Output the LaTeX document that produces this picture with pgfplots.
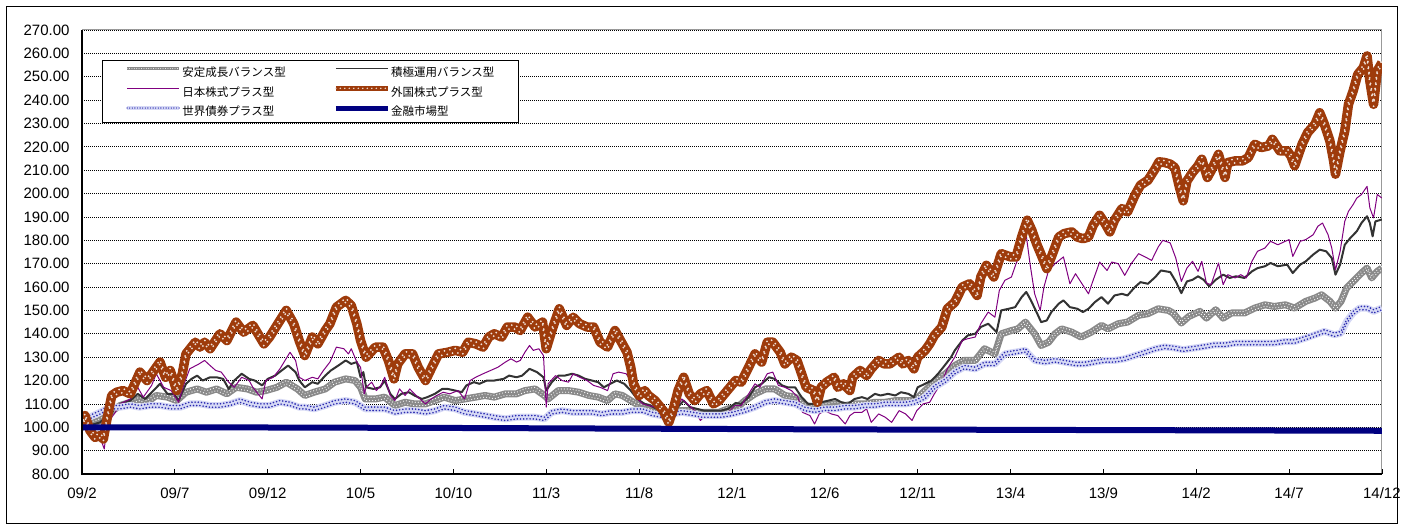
\documentclass[border=0pt]{standalone}
\usepackage{fontspec}
\setmainfont{Liberation Sans}
\newfontfamily\jp{Noto Sans CJK JP}
\usepackage{pgfplots}
\usepackage{pgfplotstable}
\pgfplotsset{compat=1.18}
\definecolor{brownc}{HTML}{9E3B0B}
\definecolor{navyc}{HTML}{000080}
\definecolor{purp}{HTML}{800080}
\definecolor{darkg}{HTML}{333333}
\definecolor{chk}{HTML}{8A8A8A}
\definecolor{bondbase}{HTML}{D6D9F5}
\definecolor{bonddot}{HTML}{2A2AB0}
\newcommand\legbb{\pgfpathrectangle{\pgfpoint{-21.5pt}{-2pt}}{\pgfpoint{73.5pt}{12pt}}\pgfusepath{use as bounding box}}
% 安定成長バランス型
\pgfplotstableread{
m v
0 100
0.4 101.4
0.97 102.9
1.5 106.4
2.05 109.3
2.6 110.7
3.1 112.1
3.5 110.7
4.0 113.6
4.6 112.9
5.1 111.4
5.6 115
6.2 116.4
6.7 115
7.25 116.4
7.8 114.3
8.3 117.1
8.9 116.4
9.4 115
9.9 115.7
10.5 117.1
11.0 119.3
11.6 116.4
12.0 113.6
12.5 115
13.1 116.4
13.6 119.3
14.2 120.7
14.7 120
15.0 117.1
15.25 112.1
15.8 112.1
16.3 112.9
16.85 109.3
17.4 110.7
17.9 110
18.5 110
19.0 111.4
19.5 112.9
20.1 111.4
20.6 112.1
21.2 112.9
21.7 113.6
22.2 112.9
22.8 114.3
23.4 114.3
23.85 115.7
24.4 116.4
24.9 113.6
25.1 112.1
25.65 115.7
26.2 115.7
26.75 115
27.3 113.6
27.8 112.9
28.3 111.4
28.7 114.3
29.1 113.6
29.55 111.4
30.0 109.3
30.5 108.6
31.05 107.1
31.6 106.4
32.1 107.1
32.7 107.1
33.2 106.4
33.75 106.4
34.3 106.4
34.8 107.9
35.3 108.6
35.7 111.4
36.24 114.3
36.8 116.4
37.3 116.4
37.85 113.6
38.4 112.9
38.9 109.3
39.45 108.6
40.0 109.3
40.55 110
41.1 109.3
41.6 110
42.2 110
42.7 110.7
43.25 110.7
43.8 111.4
44.35 111.4
44.85 111.4
45.4 115.7
45.9 119.3
46.5 122.9
47.0 126.4
47.5 128.6
48.1 128.6
48.6 133.6
49.16 131.4
49.5 140
50.05 141.4
50.4 142.1
50.8 145
51.3 140
51.65 135
52.05 136.4
52.4 140
52.75 142.1
53.3 140.7
53.8 138.6
54.35 140.7
54.9 143.6
55.25 142.1
55.8 144.3
56.3 145
56.9 147.9
57.4 148.6
57.95 150.7
58.5 150
58.75 148.9
59.2 144.6
59.6 147.4
60.2 149.6
60.55 146.7
61.05 150.3
61.45 146.7
61.9 148.9
62.6 148.9
63.15 151
63.7 152.4
64.2 151.7
64.8 152.4
65.3 151
65.9 153.9
66.4 155.3
66.75 156.7
67.2 153.9
67.5 151
67.8 153.9
68.1 159.6
68.45 162.4
68.9 166
69.2 168.1
69.45 163.9
69.75 166.7
70 168.1
}\tabA
% 積極運用バランス型
\pgfplotstableread{
m v
0 100
0.4 100.7
0.97 102.1
1.5 105.7
2.05 110
2.6 111.4
3.0 114.3
3.4 112.1
3.85 115.7
4.2 118.6
4.6 114.3
4.95 114.3
5.2 111.4
5.6 118.6
5.9 120.7
6.2 122.1
6.5 120
6.9 121.4
7.25 121.4
7.6 120.7
7.9 116.4
8.2 120
8.6 122.9
9.0 120.7
9.3 120
9.7 117.9
10.0 120.7
10.4 122.1
10.75 124.3
11.1 126.4
11.5 123.6
11.7 120
12.0 117.1
12.4 119.3
12.7 118.6
13.1 122.1
13.4 124.3
13.8 126.4
14.2 128.6
14.5 127.1
14.8 127.9
15.0 121.4
15.15 123.6
15.3 117.1
15.7 116.4
16.05 117.1
16.3 120
16.6 114.3
16.85 112.1
17.2 114.3
17.6 115
17.9 113.6
18.3 112.1
18.6 112.9
19.0 114.3
19.4 116.4
19.7 116.4
20.1 115.7
20.45 115
20.7 117.9
21.1 119.3
21.4 118.6
21.8 120
22.2 120
22.7 120.7
23.0 122.1
23.4 121.4
23.7 122.1
24.1 125
24.5 123.6
24.85 121.4
25.0 115.7
25.3 119.3
25.65 122.1
26.0 122.1
26.4 122.9
26.75 122.1
27.1 120.7
27.45 120
27.8 119.3
28.1 117.1
28.45 118.6
28.8 120
29.2 118.6
29.55 115.7
29.9 112.1
30.3 110
30.6 109.3
30.95 107.9
31.3 107.1
31.7 106.4
32.0 107.9
32.4 111.4
32.75 108.6
33.1 107.9
33.5 107.1
33.9 107.1
34.4 107.1
34.8 107.9
35.2 110.4
35.5 110
35.9 112.9
36.24 117.1
36.6 118.6
37.0 121.4
37.3 120.7
37.7 117.9
38.0 117.1
38.4 117.1
38.75 112.9
39.1 110
39.45 110
39.8 110.7
40.2 111.4
40.55 112.1
40.9 110.7
41.25 110
41.6 112.1
42.0 112.9
42.3 112.1
42.7 114.3
43.0 113.6
43.4 114.3
43.8 113.6
44.1 115
44.5 114.3
44.8 112.9
45.0 117.1
45.4 118.6
45.75 120
46.1 122.9
46.45 126.4
46.8 130
47.0 132.9
47.4 137.1
47.7 139.3
48.1 140
48.4 142.9
48.8 144.3
49.25 140.7
49.5 150
49.9 150.7
50.25 151.4
50.6 155.7
50.85 157.9
51.1 154.3
51.4 149.3
51.65 145
51.95 145.7
52.2 149.3
52.6 152.9
52.85 154.3
53.2 151.4
53.6 150.7
53.9 149.3
54.2 150.7
54.55 153.6
54.9 155.7
55.25 152.9
55.6 156.4
56.0 157.1
56.3 156.4
56.7 160
57.0 162.1
57.4 161.4
57.8 164.3
58.1 167.1
58.6 166.4
58.9 162.4
59.2 157.4
59.5 162.4
59.8 163.1
60.1 164.6
60.4 163.1
60.7 160.3
61.05 163.1
61.45 165.3
61.8 163.9
62.15 164.6
62.6 163.9
63.0 166.7
63.3 168.1
63.7 168.9
64.0 170.3
64.4 168.9
64.9 169.6
65.2 166
65.6 169.6
65.9 171
66.3 173.9
66.65 176
67.0 175.3
67.3 172.4
67.5 165.3
67.75 169.6
68.0 178.1
68.3 181
68.65 183.9
68.9 187.4
69.2 190.3
69.35 187.4
69.5 181.7
69.65 188.1
70 188.9
}\tabB
% 日本株式プラス型
\pgfplotstableread{
m v
0 100
0.15 102.9
0.6 97
0.97 95.7
1.2 90.7
1.33 100
1.6 104.3
1.8 106.4
2.05 110
2.6 112.1
3.0 117.1
3.3 112.9
3.75 117.9
4.0 122.9
4.4 117.1
4.8 115.7
5.2 110.7
5.5 118.6
5.8 125
6.3 127.1
6.6 128.6
6.9 126.4
7.2 124.3
7.5 123.6
7.9 119.3
8.2 117.1
8.6 121.4
9.0 120
9.2 117.1
9.7 112.1
9.9 120
10.3 121.4
10.66 125
11.2 132.1
11.5 128.6
11.7 121.4
12.0 120
12.4 121.4
12.7 120.7
13.0 124.3
13.35 127.9
13.7 134.3
14.1 133.6
14.35 131.4
14.5 133.6
14.8 127.9
15.0 125.7
15.2 114.3
15.3 117.1
15.6 119.3
15.85 115.7
16.1 117.9
16.3 121.4
16.6 113.6
16.85 111.4
17.1 116.4
17.4 113.6
17.65 116.4
17.9 114.3
18.2 112.1
18.5 110
18.8 112.1
19.1 113.6
19.45 115
19.8 114.3
20.25 115.7
20.6 112.1
20.9 120
21.2 121.4
21.6 122.9
22.0 124.3
22.4 125.7
22.8 127.9
23.1 129.3
23.4 127.9
23.6 128.6
23.85 132.1
24.1 135
24.3 132.9
24.6 133.6
24.85 130.7
25.0 108.6
25.1 118.6
25.5 122.1
25.85 120
26.2 119.3
26.45 122.9
26.8 121.4
27.2 120
27.55 117.9
27.9 117.1
28.3 115.7
28.6 122.9
28.9 123.6
29.3 122.9
29.55 120
29.8 112.9
30.2 110
30.5 109.3
30.86 108.6
31.2 106.4
31.6 104.3
31.9 106.4
32.3 112.1
32.7 109.3
33.0 107.1
33.3 102.9
33.65 105.7
34.1 104.3
34.45 105.7
34.8 106.4
35.16 109.3
35.5 109.3
35.9 114.3
36.24 118.6
36.5 117.1
36.9 122.9
37.2 123.6
37.5 117.9
37.85 117.1
38.2 115.7
38.55 112.9
38.8 106.4
39.2 105
39.45 101.4
39.7 105.7
40.0 107.1
40.35 105.7
40.7 105
41.1 101.4
41.35 105
41.6 106.4
42.0 106.4
42.25 107.9
42.5 102.1
42.9 105.7
43.25 104.3
43.6 102.1
44.0 107.1
44.35 105.7
44.7 102.9
44.95 107.1
45.3 110
45.65 110.7
45.9 114.3
46.3 119.3
46.6 125
47.0 130
47.4 137.1
47.7 137.9
48.1 138.6
48.4 144.3
48.8 149.3
49.16 147.1
49.4 158.6
49.7 162.9
50.05 164.3
50.3 170
50.6 175.7
50.85 182
51.05 170
51.3 157.1
51.6 150
51.8 160
52.05 167.1
52.4 170
52.85 172.9
53.2 161.4
53.5 165.7
53.85 161.4
54.2 157.1
54.45 162.9
54.8 170.7
55.2 167.1
55.45 170.7
55.8 170
56.15 165
56.5 170
56.9 174.3
57.25 172.9
57.6 171.4
57.95 177.1
58.2 180
58.6 178.9
58.9 172.4
59.2 162.4
59.5 168.1
59.8 171
60.1 166.7
60.3 171
60.55 161.7
60.8 161
61.2 170.3
61.45 161
61.7 165.3
62.1 163.9
62.4 165.3
62.7 163.9
63.0 171
63.3 175.3
63.7 176.7
64.0 179.6
64.4 178.1
64.8 179.6
65.0 180.3
65.2 173.1
65.6 179.6
65.9 180.3
66.3 182.4
66.55 186
66.8 187.4
67.1 182.4
67.3 176.7
67.5 167.4
67.75 175.3
68.0 188.1
68.2 192.4
68.45 195.3
68.65 198.1
68.9 199.6
69.2 203.1
69.35 193.9
69.55 189.6
69.75 199.6
70 198.1
}\tabC
% 世界債券プラス型
\pgfplotstableread{
m v
0 100
0.4 104.3
0.97 106.4
1.5 108.6
2.05 108.6
2.6 109.3
3.1 108.6
3.7 109.3
4.2 109.3
4.75 108.6
5.3 108.6
5.8 110
6.35 110
6.9 109.3
7.43 109.3
7.97 110
8.5 111.4
9.05 110
9.6 109.3
10.1 109.3
10.66 110.7
11.2 110
11.7 108.6
12.0 108.6
12.5 107.9
13.1 109.3
13.6 110.7
14.2 111.4
14.7 110.7
15.25 107.9
15.8 107.9
16.3 107.9
16.85 106.4
17.4 107.1
17.9 107.1
18.5 106.4
19.0 107.1
19.5 108.6
20.1 107.9
20.6 106.4
21.2 105.7
21.7 105
22.2 104.3
22.8 103.6
23.4 104.3
23.85 104.3
24.4 104.3
24.9 103.6
25.3 106.4
25.85 107.1
26.4 106.4
26.9 106.4
27.45 106.4
28.0 105.7
28.5 106.4
29.1 106.4
29.6 107.1
30.2 107.1
30.7 105.7
31.2 105
31.8 105.7
32.3 106.4
32.9 105.7
33.4 105
33.9 105
34.45 105
35.0 105.7
35.7 107.1
36.24 108.6
36.8 110.7
37.3 111.4
37.85 110.7
38.4 110
38.9 107.9
39.45 107.1
40.0 107.9
40.55 107.9
41.1 108.6
41.6 108.6
42.2 109.3
42.7 109.3
43.25 110
43.8 110
44.35 110
44.85 110.7
45.4 112.9
45.9 117.1
46.5 120
47.0 123.6
47.5 125.7
48.1 125
48.6 127.1
49.16 127.1
49.7 131.4
50.24 132.1
50.8 132.9
51.3 128.6
51.85 127.9
52.4 128.6
52.9 127.9
53.5 127.1
54.0 127.1
54.55 127.9
55.1 128.6
55.6 128.6
56.15 129.3
56.7 130.7
57.25 132.1
57.8 133.6
58.3 134.4
58.85 133.9
59.3 133.2
59.9 133.9
60.5 134.6
61.0 135.3
61.55 135.3
62.1 136
62.6 136
63.15 136
63.7 136
64.2 136
64.8 136.7
65.3 136.7
65.9 138.2
66.4 139.6
66.9 141
67.45 139.6
67.8 140.3
68.1 145.3
68.45 148.9
68.8 151
69.2 151
69.55 149.6
70 151
}\tabD
% 外国株式プラス型
\pgfplotstableread{
m v
0 100
0.16 105
0.43 98.6
0.7 95.7
0.97 96.4
1.15 95
1.33 102.9
1.6 113.6
1.87 115
2.2 115.7
2.6 114.3
3.12 123.6
3.5 120
3.75 122.9
4.2 127.9
4.5 121.4
4.75 124.3
5.1 115.7
5.4 122.9
5.6 131.4
6.1 136.4
6.35 134.3
6.6 136.4
6.9 133.6
7.43 140
7.8 137.1
8.3 145
8.7 140.7
9.2 143.6
9.8 135.7
10.1 138.6
10.66 145.7
11.0 150
11.4 144.3
11.7 137
12.0 130.7
12.4 138.6
12.7 135.7
13.1 141.4
13.35 144.3
13.7 151.4
14.2 154.3
14.5 152.1
14.8 144.3
15.0 137.1
15.3 130
15.8 134.3
16.2 134.3
16.5 128.6
16.8 120.7
17.0 127.1
17.4 131.4
17.8 131.4
18.1 125.7
18.5 120
18.8 125
19.2 131.4
19.7 132.1
20.1 132.9
20.5 132.1
20.8 136.4
21.2 135.7
21.6 134.3
21.9 138.6
22.2 140
22.6 138.6
22.9 142.9
23.3 142.9
23.6 141.4
24.0 147.1
24.4 142.9
24.8 145
25.0 133.6
25.3 141.4
25.7 150.7
26.1 143.6
26.45 147.1
26.8 144.3
27.2 142.9
27.55 142.9
27.9 136.4
28.3 134.3
28.7 141.4
29.1 135.7
29.35 132.1
29.55 125.7
29.7 118.6
30.0 113.6
30.3 115.7
30.5 113.6
30.86 111.4
31.3 107.1
31.6 102.1
31.85 107.9
32.1 115.7
32.4 121.4
32.7 114.3
33.0 111.4
33.3 114.3
33.65 115.7
34.0 110
34.3 111.4
34.6 114.3
35.2 120
35.5 119.3
35.9 125.7
36.24 131.4
36.6 127.9
36.9 136.4
37.2 136.4
37.6 132.1
37.85 127.1
38.2 130
38.5 128.6
38.75 122.9
39.0 117.1
39.4 115.7
39.6 110.7
39.8 117.1
40.1 119.3
40.5 121.4
40.7 117.1
41.0 118.6
41.35 115.7
41.5 121.4
41.9 124.3
42.25 122.1
42.5 125
42.9 128.6
43.2 127.1
43.5 127.1
44.0 130
44.2 127.1
44.5 128.6
44.8 125
45.0 130
45.4 132.9
45.65 135.7
45.9 139.3
46.3 142.9
46.6 150.7
47.0 153.5
47.4 160
47.8 161.4
48.2 156.4
48.4 164.3
48.7 169.3
49.1 164.3
49.5 174.3
50.0 172.9
50.3 172.9
50.6 181.4
50.9 188.6
51.15 184.3
51.4 178.6
51.7 172.9
51.95 167.9
52.2 172.9
52.6 181.4
52.9 182.9
53.3 183.6
53.6 181.4
53.9 180.7
54.2 181.4
54.45 186.4
54.8 190.7
55.1 187.1
55.35 183.6
55.6 188.6
56.0 193.6
56.3 192.1
56.7 199.3
57.0 203.6
57.4 205.7
57.8 210.7
58.0 213.6
58.3 213.3
58.6 212.6
58.85 211.1
59.1 202.6
59.3 196.9
59.5 205.4
59.8 209
60.1 211.9
60.3 214.7
60.6 206.9
60.8 209.7
61.2 216.8
61.55 206.9
61.7 213.3
62.1 214
62.5 214
62.8 215.4
63.15 221.1
63.5 219.7
63.9 220.4
64.1 223.2
64.5 218.3
64.9 218.3
65.1 216.1
65.3 211.9
65.7 221.1
66.0 226.1
66.4 229.7
66.65 234.6
66.9 229.7
67.2 222.5
67.4 214
67.5 208.3
67.75 218.3
68.0 226.8
68.2 238.2
68.45 243.9
68.7 251
69.0 253.9
69.2 258.9
69.35 248.2
69.55 238.2
69.75 252.5
70 256
}\tabE
% 金融市場型
\pgfplotstableread{
m v
0 100
10 99.9
20 99.7
30 99.4
40 99.1
50 98.9
60 98.7
70 98.5
}\tabF
\begin{document}
\begin{tikzpicture}[x=1pt,y=1pt]
\useasboundingbox (0,0) rectangle (1403,528);
\draw[black, line width=1pt] (6,5) rectangle (1397,521);
\begin{axis}[
  at={(82pt,54pt)}, anchor=south west,
  scale only axis, width=1300pt, height=444pt,
  xmin=0, xmax=70, ymin=80, ymax=270,
  xtick={0,5,...,70},
  xticklabels={09/2,09/7,09/12,10/5,10/10,11/3,11/8,12/1,12/6,12/11,13/4,13/9,14/2,14/7,14/12},
  ytick={80,90,...,270},
  yticklabel style={/pgf/number format/fixed, /pgf/number format/fixed zerofill,
     /pgf/number format/precision=2, /pgf/number format/assume math mode=true, xshift=-9pt},
  xticklabel style={yshift=-10pt},
  tick label style={font=\fontsize{15}{18}\selectfont},
  ymajorgrids,
  major grid style={black, line width=0.7pt, dash pattern=on 1pt off 1pt},
  axis line style={draw=gray!80, line width=1pt},
  xtick pos=bottom, ytick pos=left,
  xtick align=inside, major tick length=5pt,
  xtick style={black, line width=0.8pt},
  ytick style={draw=none},
  legend columns=2,
  legend cell align=left,
  legend style={at={(0.01515,0.9324)}, anchor=north west, draw=black, line width=0.8pt,
     fill=white, inner xsep=3.5pt, inner ysep=2.5pt,
     font=\jp\fontsize{11.5}{13}\selectfont,
     nodes={text width=120pt, inner xsep=3.4pt, inner ysep=1pt, text height=10pt, text depth=3pt},
     /tikz/every even column/.append style={column sep=8.4pt},
     row sep=2.2pt},
  after end axis/.code={\draw[black, line width=1.6pt] (rel axis cs:0,1) -- (rel axis cs:0,0) -- (rel axis cs:1,0);},
  every axis plot/.append style={line join=round},
]
% 安定成長バランス型
\addplot[chk, line width=7pt, forget plot] table[x=m,y=v] {\tabA};
\addplot[white, line width=1.2pt, dash pattern=on 0pt off 3pt, line cap=round, yshift=1.6pt, forget plot] table[x=m,y=v] {\tabA};
\addplot[white, line width=1.2pt, dash pattern=on 0pt off 3pt, dash phase=1.5pt, line cap=round, yshift=-1.6pt, forget plot] table[x=m,y=v] {\tabA};
% 積極運用バランス型
\addplot[darkg, line width=2pt, forget plot] table[x=m,y=v] {\tabB};
% 日本株式プラス型
\addplot[purp, line width=1pt, forget plot] table[x=m,y=v] {\tabC};
% 世界債券プラス型
\addplot[bondbase, line width=7pt, forget plot] table[x=m,y=v] {\tabD};
\addplot[bonddot, line width=1.8pt, dash pattern=on 0pt off 3.2pt, line cap=round, yshift=1.7pt, forget plot] table[x=m,y=v] {\tabD};
\addplot[bonddot, line width=1.8pt, dash pattern=on 0pt off 3.2pt, dash phase=1.6pt, line cap=round, yshift=-1.7pt, forget plot] table[x=m,y=v] {\tabD};
% 外国株式プラス型
\addplot[brownc, line width=9.5pt, forget plot] table[x=m,y=v] {\tabE};
\addplot[white!85!brownc, line width=2pt, dash pattern=on 0pt off 5.5pt, line cap=round, yshift=2pt, forget plot] table[x=m,y=v] {\tabE};
\addplot[white!85!brownc, line width=2pt, dash pattern=on 0pt off 5.5pt, dash phase=2.75pt, line cap=round, yshift=-2pt, forget plot] table[x=m,y=v] {\tabE};
% 金融市場型
\addplot[navyc, line width=6pt, forget plot] table[x=m,y=v] {\tabF};
% legend
\addlegendimage{legend image code/.code={\legbb
  \draw[chk, line width=3.5pt] (0pt,4.3pt) -- (52pt,4.3pt);
  \draw[white, line width=1pt, dash pattern=on 0pt off 2.4pt, line cap=round] (0pt,4.3pt) -- (52pt,4.3pt);}}
\addlegendentry{安定成長バランス型}
\addlegendimage{legend image code/.code={\legbb
  \draw[darkg, line width=1.6pt] (0pt,4.3pt) -- (52pt,4.3pt);}}
\addlegendentry{積極運用バランス型}
\addlegendimage{legend image code/.code={\legbb
  \draw[purp, line width=1pt] (0pt,4.3pt) -- (52pt,4.3pt);}}
\addlegendentry{日本株式プラス型}
\addlegendimage{legend image code/.code={\legbb
  \draw[brownc, line width=4.5pt] (0pt,4.3pt) -- (52pt,4.3pt);
  \draw[white!85!brownc, line width=1.6pt, dash pattern=on 0pt off 4.5pt, line cap=round] (0pt,4.3pt) -- (52pt,4.3pt);}}
\addlegendentry{外国株式プラス型}
\addlegendimage{legend image code/.code={\legbb
  \draw[bondbase, line width=3.5pt] (0pt,4.3pt) -- (52pt,4.3pt);
  \draw[bonddot, line width=1.4pt, dash pattern=on 0pt off 2.6pt, line cap=round] (0pt,4.3pt) -- (52pt,4.3pt);}}
\addlegendentry{世界債券プラス型}
\addlegendimage{legend image code/.code={\legbb
  \draw[navyc, line width=5pt] (0pt,4.3pt) -- (52pt,4.3pt);}}
\addlegendentry{金融市場型}
\end{axis}
\end{tikzpicture}
\end{document}
